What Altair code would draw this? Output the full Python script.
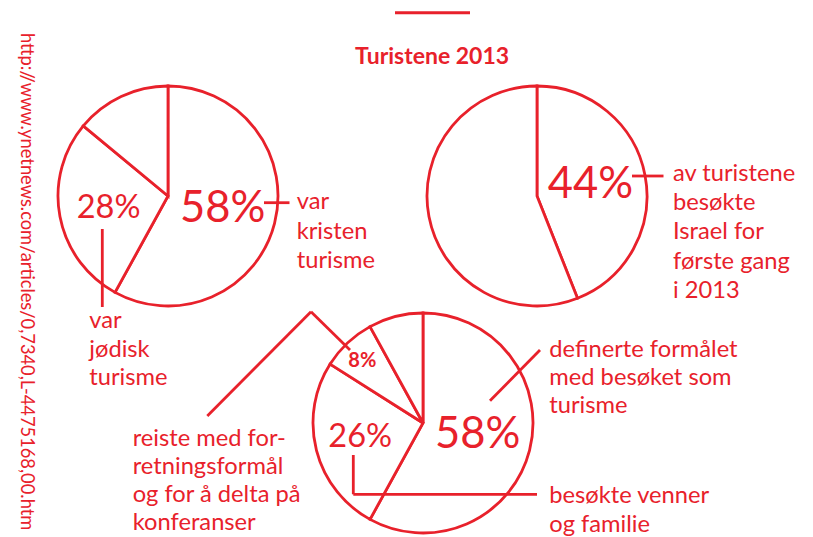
import altair as alt
import pandas as pd
import math

RED = "#e8212b"
FONT = "Lato"

# ---- data ----
title = "Turistene 2013"
source_url = "http://www.ynetnews.com/articles/0,7340,L-4475168,00.htm"

pie1_values = [58, 28, 14]          # kristen, jødisk, annet
pie2_values = [44, 56]              # første gang, andre
pie3_values = [58, 26, 8, 8]        # turisme, venner/familie, forretning, annet

pie1_big, pie1_small = "58%", "28%"
pie2_big = "44%"
pie3_big, pie3_mid, pie3_small = "58%", "26%", "8%"

lbl_kristen = ["var", "kristen", "turisme"]
lbl_jodisk = ["var", "jødisk", "turisme"]
lbl_forste = ["av turistene", "besøkte", "Israel for", "første gang", "i 2013"]
lbl_forretning = ["reiste med for-", "retningsformål", "og for å delta på", "konferanser"]
lbl_turisme = ["definerte formålet", "med besøket som", "turisme"]
lbl_venner = ["besøkte venner", "og familie"]

W, H = 797, 529
OFF = 8  # page margin


def px(v):
    return v - OFF


def slices(values):
    starts, s = [], 0
    for v in values:
        starts.append(s)
        s += v
    return pd.DataFrame({"start": starts, "end": [a + b for a, b in zip(starts, values)]})


theta_scale = alt.Scale(domain=[0, 100], range=[0, 2 * math.pi])


def pie(values, cx, cy, r=110):
    return alt.Chart(slices(values)).mark_arc(
        fill="white", stroke=RED, strokeWidth=2.8, outerRadius=r, strokeJoin="miter"
    ).encode(
        theta=alt.Theta("start:Q", scale=theta_scale),
        theta2="end:Q",
        x=alt.value(px(cx)),
        y=alt.value(px(cy)),
    )


def seg(x1, y1, x2, y2, w=2.8):
    return alt.Chart(pd.DataFrame({"a": [0]})).mark_rule(
        color=RED, strokeWidth=w, strokeCap="butt"
    ).encode(
        x=alt.value(px(x1)), y=alt.value(px(y1)),
        x2=alt.value(px(x2)), y2=alt.value(px(y2)),
    )


def txt(text, x, y, size=23.7, weight="normal", lh=29.3, angle=0):
    kw = dict(color=RED, font=FONT, fontSize=size, fontWeight=weight,
              align="left", baseline="alphabetic", lineHeight=lh)
    if angle:
        kw["angle"] = angle
    return alt.Chart(pd.DataFrame({"a": [0]})).mark_text(**kw).encode(
        x=alt.value(px(x)), y=alt.value(px(y)), text=alt.value(text)
    )


layers = [
    pie(pie1_values, 168, 196),
    pie(pie2_values, 537, 196),
    pie(pie3_values, 423, 423),
    # decorative top line
    seg(395, 12.7, 470, 12.7, w=3),
    # pie 1 leaders
    seg(264, 202.7, 289.5, 202.7),
    seg(102.3, 229, 102.3, 307),
    # pie 2 leader
    seg(632, 176, 663.5, 176),
    # pie 3 leaders
    seg(207.3, 416, 311, 311.7),
    seg(311, 311.7, 350, 350),
    seg(490, 400.7, 540, 350),
    seg(353.3, 455, 353.3, 494.3),
    seg(353.3, 494.3, 537, 494.3),
    # texts
    txt(title, 355, 64.3, size=23, weight="bold"),
    txt(pie1_big, 180, 221.7, size=43.5),
    txt(pie1_small, 76.7, 218.3, size=32.5),
    txt(lbl_kristen, 296.7, 209.3, lh=29.5),
    txt(lbl_jodisk, 89.3, 328.3, lh=28.4),
    txt(pie2_big, 547.7, 197.7, size=43.5),
    txt(lbl_forste, 673, 180.7, lh=29.4),
    txt(pie3_small, 348.3, 366.7, size=20, weight="bold"),
    txt(pie3_mid, 328.3, 446.7, size=32.5),
    txt(pie3_big, 435, 448.3, size=43.5),
    txt(lbl_forretning, 132.7, 446.3, lh=28),
    txt(lbl_turisme, 549.3, 356.7, lh=28.2),
    txt(lbl_venner, 549.3, 503.3, lh=28.4),
    txt(source_url, 21, 33, size=18.3, angle=90),
]

chart = alt.layer(*layers).properties(
    width=W, height=H, autosize="none", padding=0
).configure_view(stroke=None)

chart.save("out.html", embed_options={"renderer": "svg", "actions": False})
